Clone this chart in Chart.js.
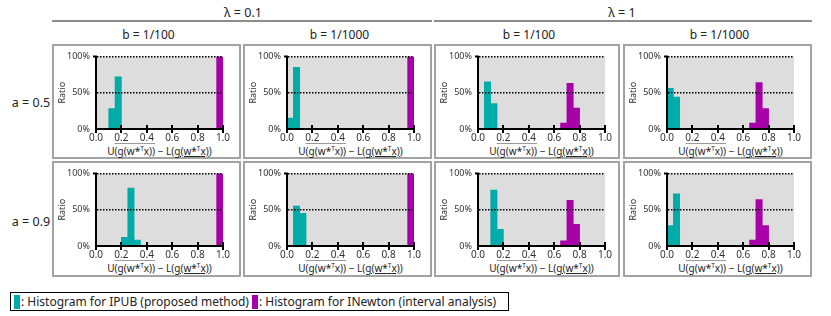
<!DOCTYPE html>
<html>
<head>
<meta charset="utf-8">
<script src="https://cdn.jsdelivr.net/npm/chart.js@4.4.1/dist/chart.umd.min.js"></script>
<style>
body { margin:0; width:831px; height:316px; background:#fff; font-family:"Noto Sans", sans-serif; color:#222; position:relative; overflow:hidden; }
.hdr { position:absolute; transform:translate(-50%,-50%); white-space:nowrap; font-size:12px; }
.rule { position:absolute; height:2px; background:#8c8c8c; }
.box { position:absolute; border:2px solid #a3a3a3; box-sizing:border-box; }
canvas { position:absolute; }
.xt { position:absolute; transform:translate(-50%,-50%); white-space:nowrap; font-size:10px; line-height:12px; }
.ov { text-decoration:overline; text-decoration-color:#9a9a9a; }
.un { text-decoration:underline; }
.sup { font-size:6.5px; vertical-align:4px; line-height:0; }
#legend { position:absolute; left:10px; top:292px; width:499px; height:19px; box-sizing:border-box; border:1px solid #000; font-size:12px; display:flex; align-items:center; padding-left:3px; white-space:nowrap; }
.sw { display:inline-block; width:6px; height:14px; margin-right:1px; }
</style>
</head>
<body>
<div id="legend"><span class="sw" style="background:#00aca7"></span>: Histogram for IPUB (proposed method)&nbsp;<span class="sw" style="background:#a800a8"></span>: Histogram for INewton (interval analysis)</div>
<script>
// histogram bins (width 0.05), centres on the x axis
const binCenters = [0.025, 0.075, 0.125, 0.175, 0.225, 0.275, 0.325, 0.375, 0.425, 0.475,
                    0.525, 0.575, 0.625, 0.675, 0.725, 0.775, 0.825, 0.875, 0.925, 0.975];
const xTickValues = [0, 0.2, 0.4, 0.6, 0.8, 1.0];
const xTickLabels = ['0.0', '0.2', '0.4', '0.6', '0.8', '1.0'];
const yTickValues = [0, 50, 100];
const yTickLabels = ['0%', '50%', '100%'];

const lambdaLabels = ['λ = 0.1', 'λ = 1'];
const bLabels = ['b = 1/100', 'b = 1/1000'];
const aLabels = ['a = 0.5', 'a = 0.9'];

// ratio (%) per bin
const ipub_a05_l01_b100   = [0,0,28,72,0,0,0,0,0,0,0,0,0,0,0,0,0,0,0,0];
const inewt_a05_l01_b100  = [0,0,0,0,0,0,0,0,0,0,0,0,0,0,0,0,0,0,0,100];
const ipub_a05_l01_b1000  = [15,85,0,0,0,0,0,0,0,0,0,0,0,0,0,0,0,0,0,0];
const inewt_a05_l01_b1000 = [0,0,0,0,0,0,0,0,0,0,0,0,0,0,0,0,0,0,0,100];
const ipub_a05_l1_b100    = [0,65,35,0,0,0,0,0,0,0,0,0,0,0,0,0,0,0,0,0];
const inewt_a05_l1_b100   = [0,0,0,0,0,0,0,0,0,0,0,0,0,8,63,29,0,0,0,0];
const ipub_a05_l1_b1000   = [56,44,0,0,0,0,0,0,0,0,0,0,0,0,0,0,0,0,0,0];
const inewt_a05_l1_b1000  = [0,0,0,0,0,0,0,0,0,0,0,0,0,8,64,28,0,0,0,0];
const ipub_a09_l01_b100   = [0,0,0,0,12,80,8,0,0,0,0,0,0,0,0,0,0,0,0,0];
const inewt_a09_l01_b100  = [0,0,0,0,0,0,0,0,0,0,0,0,0,0,0,0,0,0,0,100];
const ipub_a09_l01_b1000  = [0,55,45,0,0,0,0,0,0,0,0,0,0,0,0,0,0,0,0,0];
const inewt_a09_l01_b1000 = [0,0,0,0,0,0,0,0,0,0,0,0,0,0,0,0,0,0,0,100];
const ipub_a09_l1_b100    = [0,0,77,23,0,0,0,0,0,0,0,0,0,0,0,0,0,0,0,0];
const inewt_a09_l1_b100   = [0,0,0,0,0,0,0,0,0,0,0,0,0,7,63,30,0,0,0,0];
const ipub_a09_l1_b1000   = [28,72,0,0,0,0,0,0,0,0,0,0,0,0,0,0,0,0,0,0];
const inewt_a09_l1_b1000  = [0,0,0,0,0,0,0,0,0,0,0,0,0,8,64,28,0,0,0,0];

const panels = [
  [[ipub_a05_l01_b100, inewt_a05_l01_b100], [ipub_a05_l01_b1000, inewt_a05_l01_b1000],
   [ipub_a05_l1_b100, inewt_a05_l1_b100],   [ipub_a05_l1_b1000, inewt_a05_l1_b1000]],
  [[ipub_a09_l01_b100, inewt_a09_l01_b100], [ipub_a09_l01_b1000, inewt_a09_l01_b1000],
   [ipub_a09_l1_b100, inewt_a09_l1_b100],   [ipub_a09_l1_b1000, inewt_a09_l1_b1000]]
];

const teal = '#00aca7';
const magenta = '#a800a8';

// page layout
const colLeft = [52, 243, 434, 623];
const colWidth = [189, 189, 186, 189];
const rowTop = [44, 161];
const boxHeight = [115, 116];
const plotLeft = 42, plotWidth = 127;

function addDiv(cls, html, css) {
  const d = document.createElement('div');
  d.className = cls;
  d.innerHTML = html;
  Object.assign(d.style, css);
  document.body.appendChild(d);
  return d;
}

// headers
addDiv('hdr', lambdaLabels[0], {left: '243px', top: '12px', fontSize: '12.5px'});
addDiv('hdr', lambdaLabels[1], {left: '622px', top: '12px', fontSize: '12.5px'});
addDiv('rule', '', {left: '52px', top: '20px', width: '380px'});
addDiv('rule', '', {left: '434px', top: '20px', width: '378px'});
for (let c = 0; c < 4; c++) {
  addDiv('hdr', bLabels[c % 2], {left: (colLeft[c] + colWidth[c] / 2 + 2) + 'px', top: '34px'});
}
addDiv('hdr', aLabels[0], {left: '31px', top: '102px', fontSize: '12.5px'});
addDiv('hdr', aLabels[1], {left: '31px', top: '221px', fontSize: '12.5px'});

const panelDecor = {
  id: 'panelDecor',
  beforeDraw(chart) {
    const a = chart.chartArea, ctx = chart.ctx;
    ctx.save();
    ctx.fillStyle = '#dddddd';
    ctx.fillRect(a.left, a.top, a.right - a.left, a.bottom - a.top);
    ctx.restore();
  },
  afterDraw(chart) {
    const a = chart.chartArea, ctx = chart.ctx, xs = chart.scales.x;
    ctx.save();
    ctx.strokeStyle = '#000';
    ctx.lineWidth = 2;
    xTickValues.forEach(v => {
      const px = Math.round(xs.getPixelForValue(v));
      ctx.beginPath();
      ctx.moveTo(px, a.bottom - 4);
      ctx.lineTo(px, a.bottom + 4);
      ctx.stroke();
    });
    ctx.beginPath();
    ctx.moveTo(a.left - 3, a.top);
    ctx.lineTo(a.left + 1, a.top);
    ctx.stroke();
    ctx.restore();
  }
};

const tickFont = {family: '"Noto Sans", sans-serif', size: 9, lineHeight: 1};
const xTickFont = {family: '"Noto Sans", sans-serif', size: 10, lineHeight: 1};

function makeChart(canvas, ipub, inewt, rightPad) {
  return new Chart(canvas.getContext('2d'), {
    type: 'bar',
    data: {
      labels: binCenters,
      datasets: [
        {label: 'IPUB', data: ipub, backgroundColor: teal},
        {label: 'INewton', data: inewt, backgroundColor: magenta}
      ]
    },
    options: {
      responsive: false,
      animation: false,
      layout: {padding: {top: 5, right: rightPad, bottom: 0, left: 0}},
      datasets: {bar: {barPercentage: 1, categoryPercentage: 1, grouped: false, borderWidth: 0}},
      plugins: {legend: {display: false}, tooltip: {enabled: false}},
      scales: {
        x: {
          type: 'linear', min: 0, max: 1, offset: false,
          afterBuildTicks: s => { s.ticks = xTickValues.map(v => ({value: v})); },
          afterFit: s => { s.height = 13; },
          ticks: {callback: (v, i) => xTickLabels[i], font: xTickFont, color: '#333', padding: 4, maxRotation: 0, autoSkip: false},
          grid: {display: false, drawTicks: false},
          border: {color: '#000', width: 2, z: 1}
        },
        y: {
          min: 0, max: 100,
          afterBuildTicks: s => { s.ticks = yTickValues.map(v => ({value: v})); },
          afterFit: s => { s.width = plotLeft; },
          ticks: {callback: (v, i) => yTickLabels[i], font: tickFont, color: '#333', padding: 6},
          grid: {
            drawTicks: false, lineWidth: 1.5, z: 1,
            color: c => (c.tick && c.tick.value === 0) ? 'rgba(0,0,0,0)' : '#000'
          },
          border: {color: '#000', width: 2, dash: [1.5, 1.5], z: 1},
          title: {display: true, text: 'Ratio', color: '#333', font: {family: '"Noto Sans", sans-serif', size: 9}, padding: {top: 3, bottom: 0}}
        }
      }
    },
    plugins: [panelDecor]
  });
}

const xTitle = 'U<span class="ov">(g(w*<span class="sup">T</span>x))</span> − L(<span class="un">g(w*<span class="sup">T</span>x)</span>)';

for (let r = 0; r < 2; r++) {
  for (let c = 0; c < 4; c++) {
    addDiv('box', '', {left: colLeft[c] + 'px', top: rowTop[r] + 'px', width: colWidth[c] + 'px', height: boxHeight[r] + 'px'});
    const cv = document.createElement('canvas');
    const w = colWidth[c] - 4;
    cv.width = w; cv.height = 96;
    cv.style.left = (colLeft[c] + 2) + 'px';
    cv.style.top = (rowTop[r] + 2) + 'px';
    document.body.appendChild(cv);
    makeChart(cv, panels[r][c][0], panels[r][c][1], w - plotLeft - plotWidth);
    addDiv('xt', xTitle, {left: (colLeft[c] + 2 + plotLeft + plotWidth / 2) + 'px', top: (rowTop[r] + 107) + 'px'});
  }
}
</script>
</body>
</html>
